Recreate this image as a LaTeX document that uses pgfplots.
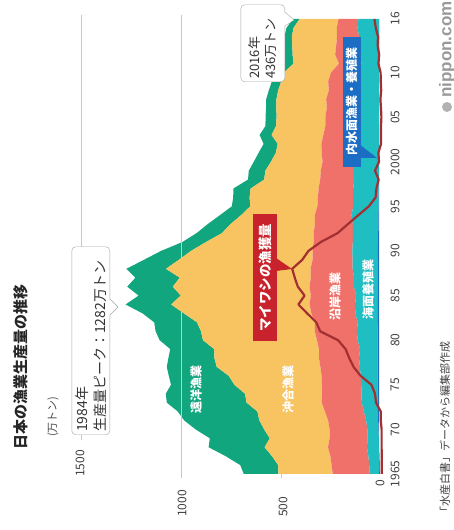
\documentclass[border=0pt]{standalone}
\usepackage{fontspec}
\setmainfont{Noto Sans CJK JP}
\newfontfamily\logofont{Liberation Sans}
\usepackage{pgfplots}
\pgfplotsset{compat=1.18}
\usepackage{pgfplotstable}

\definecolor{cDist}{RGB}{18,166,126}
\definecolor{cOff}{RGB}{248,196,98}
\definecolor{cCoast}{RGB}{240,112,106}
\definecolor{cAqua}{RGB}{30,190,194}
\definecolor{cInl}{RGB}{28,109,196}
\definecolor{cSard}{RGB}{163,48,48}
\definecolor{cBox}{RGB}{200,35,44}
\definecolor{cGrid}{RGB}{200,200,200}

\pgfplotstableread{
year inland aqua coastal offshore distant sardine
1965 11 50 185 272 173 1
1966 12 52 188 267 190 1
1967 13 55 190 292 232 1
1968 15 60 195 317 280 2
1969 16 56 190 299 300 2
1970 18 55 189 327 343 2
1971 19 60 190 344 376 6
1972 20 70 195 338 398 6
1973 21 80 200 376 399 30
1974 22 80 197 386 396 35
1975 22 82 196 438 317 53
1976 22 85 195 464 300 107
1977 22 88 198 518 250 142
1978 22 93 200 523 230 164
1979 22 88 205 524 220 182
1980 22 99 204 570 217 220
1981 22 104 210 569 227 309
1982 21 100 215 589 214 329
1983 21 112 220 637 207 374
1984 21 114 227 692 228 418
1985 20 109 227 650 211 387
1986 20 120 222 684 228 421
1987 20 119 217 655 222 436
1988 20 127 210 723 198 449
1989 20 127 200 669 175 399
1990 21 127 199 608 150 368
1991 20 126 196 538 118 306
1992 19 127 196 458 127 222
1993 18 127 190 423 114 171
1994 18 134 184 369 106 119
1995 17 127 179 336 92 66
1996 17 128 175 342 82 32
1997 17 127 173 340 86 28
1998 16 123 170 280 81 17
1999 16 125 165 277 83 35
2000 16 123 158 258 86 15
2001 16 126 160 229 86 18
2002 15 133 155 218 71 5
2003 15 125 153 259 60 5
2004 15 121 147 247 53 5
2005 15 121 147 244 55 3
2006 15 118 143 252 52 5
2007 15 124 140 249 51 8
2008 15 115 136 253 47 4
2009 15 120 134 235 47 6
2010 15 111 129 236 48 7
2011 15 87 113 227 43 18
2012 15 104 115 213 46 14
2013 15 100 114 219 40 22
2014 15 99 111 226 37 20
2015 15 107 104 216 36 31
2016 15 103 99 195 33 38
}\fishdata

\pgfplotsset{fishframe/.style={
  at={(82pt,56pt)}, anchor=south west,
  scale only axis, width=300pt, height=455pt,
  x dir=reverse,
  xmin=0, xmax=1500, ymin=1965, ymax=2016,
  clip=false,
}}

\begin{document}
\begin{tikzpicture}[x=1pt,y=1pt]
\path[use as bounding box] (0,0) rectangle (454,530);
\begin{axis}[
  fishframe,
  axis line style={draw=none},
  major tick length=0pt,
  xtick=\empty,
  ytick={1965,1970,1975,1980,1985,1990,1995,2000,2005,2010,2016},
  yticklabels={1965,70,75,80,85,90,95,2000,05,10,16},
  yticklabel pos=right,
  yticklabel style={xshift=13pt, rotate=90, anchor=center, font=\fontsize{12}{12}\selectfont, text=black!75},
  /pgf/number format/assume math mode=true,
  stack plots=x,
]
\draw[cGrid, line width=1pt] (axis cs:1500,2016.45) -- (axis cs:1500,1968.8);
\draw[cGrid, line width=1pt] (axis cs:1000,2016.45) -- (axis cs:1000,1964.55);
\draw[cGrid, line width=1pt] (axis cs:500,2016.45) -- (axis cs:500,1964.55);
\addplot[fill=cInl, draw=none] table[x=inland, y=year] {\fishdata} \closedcycle;
\addplot[fill=cAqua, draw=none] table[x=aqua, y=year] {\fishdata} \closedcycle;
\addplot[fill=cCoast, draw=none] table[x=coastal, y=year] {\fishdata} \closedcycle;
\addplot[fill=cOff, draw=none] table[x=offshore, y=year] {\fishdata} \closedcycle;
\addplot[fill=cDist, draw=none] table[x=distant, y=year] {\fishdata} \closedcycle;
\end{axis}
\begin{axis}[fishframe, hide axis]
\addplot[cSard, line width=2.2pt, line join=round, mark=none] table[x=sardine, y=year] {\fishdata};
\end{axis}

% title and unit
\node[rotate=90, anchor=west, font=\fontsize{15}{15}\selectfont\bfseries, text=black!85, inner sep=0] at (21,80) {日本の漁業生産量の推移};
\node[rotate=90, anchor=west, font=\fontsize{11}{11}\selectfont, text=black!70, inner sep=0] at (53,93) {(万トン)};
% value labels
\begin{scope}[every node/.style={rotate=90, anchor=west, inner sep=0, font=\fontsize{12}{12}\selectfont, text=black!75}]
\node at (80,53) {1500};
\node at (182,13) {1000};
\node at (283,13) {500};
\node at (380,43) {0};
\end{scope}
% area labels
\begin{scope}[every node/.style={rotate=90, inner sep=0, font=\fontsize{12}{12}\selectfont\bfseries, text=white}]
\node at (196,140) {遠洋漁業};
\node at (288,140) {沖合漁業};
\node at (335,233) {沿岸漁業};
\node at (368,240) {海面養殖業};
\end{scope}
% sardine label
\fill[cBox] (276,272) -- (292,261) -- (276,259) -- cycle;
\node[rotate=90, fill=cBox, text=white, font=\fontsize{13.5}{13.5}\selectfont\bfseries, minimum width=127pt, minimum height=24pt, inner sep=0] at (265,252) {マイワシの漁獲量};
% inland label
\fill[cInl] (359,386) -- (377,372) -- (359,372) -- cycle;
\node[rotate=90, fill=cInl, text=white, font=\fontsize{12}{12}\selectfont\bfseries, minimum width=130pt, minimum height=18pt, inner sep=0] at (351.5,428) {内水面漁業・養殖業};
% 1984 callout
\node[rotate=90, anchor=south west, draw=black!35, fill=white, rounded corners=4pt, align=left, text width=182pt, minimum height=38pt, inner xsep=3pt, inner ysep=2pt, font=\fontsize{14}{18}\selectfont, text=black!80] at (110,95) {1984年\\生産量ピーク：1282万トン};
\fill[white] (109,231) -- (118,223) -- (109,215) -- cycle;
\draw[black!35] (110,231) -- (118,223) -- (110,215);
% 2016 callout
\node[rotate=90, anchor=south west, draw=black!35, fill=white, rounded corners=4pt, align=left, text width=71pt, minimum height=44pt, inner xsep=3pt, inner ysep=2pt, font=\fontsize{13}{16}\selectfont, text=black!80] at (285,448) {2016年\\436万トン};
\fill[white] (284,518) -- (294,510) -- (284,504) -- cycle;
\draw[black!35] (285,518) -- (294,510) -- (285,504);
% logo and source
\fill[black!30] (447,423) circle (5);
\node[rotate=90, anchor=west, font=\logofont\bfseries\fontsize{17}{17}\selectfont, text=black!40, inner sep=0] at (447,432) {nippon.com};
\node[rotate=90, anchor=west, font=\fontsize{11}{11}\selectfont, text=black!75, inner sep=0] at (445,12) {「水産白書」データから編集部作成};
\end{tikzpicture}
\end{document}
